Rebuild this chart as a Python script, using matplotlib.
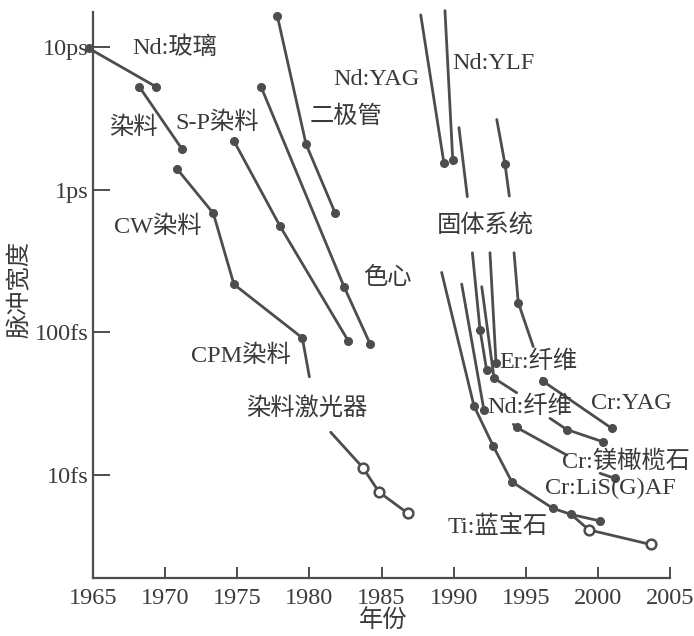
import matplotlib
matplotlib.use("Agg")
import matplotlib.pyplot as plt
from matplotlib.ticker import NullLocator, FixedLocator, FixedFormatter

plt.rcParams['font.family'] = ['Liberation Serif', 'Noto Sans CJK SC']

# ---------------- data (year, pulse width in fs) ----------------
nd_glass_year = [1964.7, 1969.37]
nd_glass_fs = [9800, 5260]

dye_year = [1968.21, 1971.19]
dye_fs = [5260, 1910]

cw_dye_year = [1970.84, 1973.34, 1974.77, 1979.51, 1980.0]
cw_dye_fs = [1390, 681, 216, 91, 48.5]

sp_dye_year = [1974.77, 1977.96, 1982.7]
sp_dye_fs = [2190, 555, 86.5]

color_center_year = [1976.65, 1982.42, 1984.2]
color_center_fs = [5260, 206, 83]

diode_year = [1977.78, 1979.77, 1981.78]
diode_fs = [16500, 2080, 687]

dye_laser_year = [1981.48, 1983.7, 1984.83, 1986.82]
dye_laser_fs = [19.8, 11.2, 7.53, 5.35]

nd_yag_year = [1987.72, 1989.33]
nd_yag_fs = [16800, 1530]

nd_ylf_year = [1989.4, 1989.94]
nd_ylf_fs = [18000, 1610]

ss_a_year = [1990.37, 1990.95]
ss_a_fs = [2720, 891]

ss_b_year = [1992.99, 1993.56, 1993.86]
ss_b_fs = [3100, 1510, 900]

ti_sapph_year = [1989.17, 1991.41, 1992.75, 1994.03, 1996.87, 1998.14, 2000.15]
ti_sapph_fs = [262, 30.3, 15.8, 8.9, 5.8, 5.25, 4.72]

ti_sapph_open_year = [1998.14, 1999.38, 2003.66]
ti_sapph_open_fs = [5.25, 4.09, 3.23]

nd_fiber_year = [1990.56, 1992.1]
nd_fiber_fs = [217, 28.4]

ss_c_year = [1991.3, 1991.83, 1992.29]
ss_c_fs = [360, 104, 54]

ss_d_year = [1991.95, 1992.8, 1994.37]
ss_d_fs = [208, 47.5, 37.5]

er_fiber_year = [1992.52, 1992.94]
er_fiber_fs = [360, 60.5]

ss_f_year = [1994.19, 1994.48, 1995.52]
ss_f_fs = [360, 161, 79]

cr_yag_year = [1996.1, 1996.22, 2000.96]
cr_yag_fs = [47.3, 45, 21.1]

cr_forst_year = [1996.68, 1997.84, 2000.33]
cr_forst_fs = [24.8, 20.7, 17.0]

nd_fiber2_year = [1994.14, 1994.37, 1997.84]
nd_fiber2_fs = [22.5, 21.4, 13.7]

cr_lisaf_year = [2000.15, 2001.19]
cr_lisaf_fs = [10.2, 9.4]

# (x, y, marker indices, open?)
series = [
    (nd_glass_year, nd_glass_fs, [0, 1], False),
    (dye_year, dye_fs, [0, 1], False),
    (cw_dye_year, cw_dye_fs, [0, 1, 2, 3], False),
    (sp_dye_year, sp_dye_fs, [0, 1, 2], False),
    (color_center_year, color_center_fs, [0, 1, 2], False),
    (diode_year, diode_fs, [0, 1, 2], False),
    (dye_laser_year, dye_laser_fs, [1, 2, 3], True),
    (nd_yag_year, nd_yag_fs, [1], False),
    (nd_ylf_year, nd_ylf_fs, [1], False),
    (ss_a_year, ss_a_fs, [], False),
    (ss_b_year, ss_b_fs, [1], False),
    (ti_sapph_year, ti_sapph_fs, [1, 2, 3, 4, 5, 6], False),
    (ti_sapph_open_year, ti_sapph_open_fs, [1, 2], True),
    (nd_fiber_year, nd_fiber_fs, [1], False),
    (ss_c_year, ss_c_fs, [1, 2], False),
    (ss_d_year, ss_d_fs, [1], False),
    (er_fiber_year, er_fiber_fs, [1], False),
    (ss_f_year, ss_f_fs, [1], False),
    (cr_yag_year, cr_yag_fs, [1, 2], False),
    (cr_forst_year, cr_forst_fs, [1, 2], False),
    (nd_fiber2_year, nd_fiber2_fs, [1], False),
    (cr_lisaf_year, cr_lisaf_fs, [1], False),
]

labels = ["Nd:玻璃", "染料", "S-P染料", "二极管", "Nd:YAG", "Nd:YLF", "CW染料",
          "固体系统", "色心", "CPM染料", "染料激光器", "Er:纤维", "Nd:纤维",
          "Cr:YAG", "Cr:镁橄榄石", "Cr:LiS(G)AF", "Ti:蓝宝石"]
label_x = [1970.68, 1967.77, 1973.6, 1982.54, 1984.62, 1992.73, 1969.51,
           1992.18, 1985.38, 1975.26, 1979.84, 1995.85, 1995.29,
           2002.3, 2001.95, 2000.84, 1993.08]
label_y = [9840, 2700, 2930, 3230, 5870, 7600, 546,
           555, 239, 67.9, 29.3, 61.5, 29.8,
           31.3, 12.4, 8.04, 4.29]

x_ticks = [1965, 1970, 1975, 1980, 1985, 1990, 1995, 2000, 2005]
y_ticks = [10, 100, 1000, 10000]
y_tick_labels = ["10fs", "100fs", "1ps", "10ps"]

# ---------------- drawing ----------------
LINE = '#4d4d4d'
TEXT = '#3a3a3a'
FS = 17.5

fig = plt.figure(figsize=(6.94, 6.36), dpi=100)
ax = fig.add_axes([93 / 694, 1 - 578 / 636, (670 - 93) / 694, (578 - 12) / 636])

for xs, ys, marks, is_open in series:
    ax.plot(xs, ys, color=LINE, lw=2.0, solid_capstyle='round', clip_on=False, zorder=2)
    if marks:
        mx = [xs[i] for i in marks]
        my = [ys[i] for i in marks]
        if is_open:
            ax.plot(mx, my, ls='none', marker='o', ms=7, mfc='white', mec=LINE,
                    mew=1.8, clip_on=False, zorder=3)
        else:
            ax.plot(mx, my, ls='none', marker='o', ms=5.5, mfc=LINE, mec=LINE,
                    clip_on=False, zorder=3)

for t, x, y in zip(labels, label_x, label_y):
    ax.text(x, y, t, ha='center', va='center', fontsize=FS, color=TEXT, zorder=4)

ax.set_xlim(1965, 2005)
ax.set_yscale('log')
ax.set_ylim(10 ** 0.274, 10 ** 4.2456)

ax.xaxis.set_major_locator(FixedLocator(x_ticks))
ax.yaxis.set_major_locator(FixedLocator(y_ticks))
ax.yaxis.set_major_formatter(FixedFormatter(y_tick_labels))
ax.yaxis.set_minor_locator(NullLocator())
ax.xaxis.set_minor_locator(NullLocator())

for s in ['top', 'right']:
    ax.spines[s].set_visible(False)
for s in ['left', 'bottom']:
    ax.spines[s].set_color(LINE)
    ax.spines[s].set_linewidth(1.6)

ax.tick_params(axis='x', direction='in', length=8, width=1.4, color=LINE,
               labelsize=FS, labelcolor=TEXT, pad=7)
ax.tick_params(axis='y', direction='in', length=12, width=1.4, color=LINE,
               labelsize=FS, labelcolor=TEXT, pad=3)

fig.text(383 / 694, 1 - 621 / 636, "年份", ha='center', va='center', fontsize=FS, color=TEXT)
fig.text(20 / 694, 1 - 290 / 636, "脉冲宽度", ha='center', va='center', rotation=90,
         fontsize=FS, color=TEXT)

fig.savefig("out.png", dpi=100)
